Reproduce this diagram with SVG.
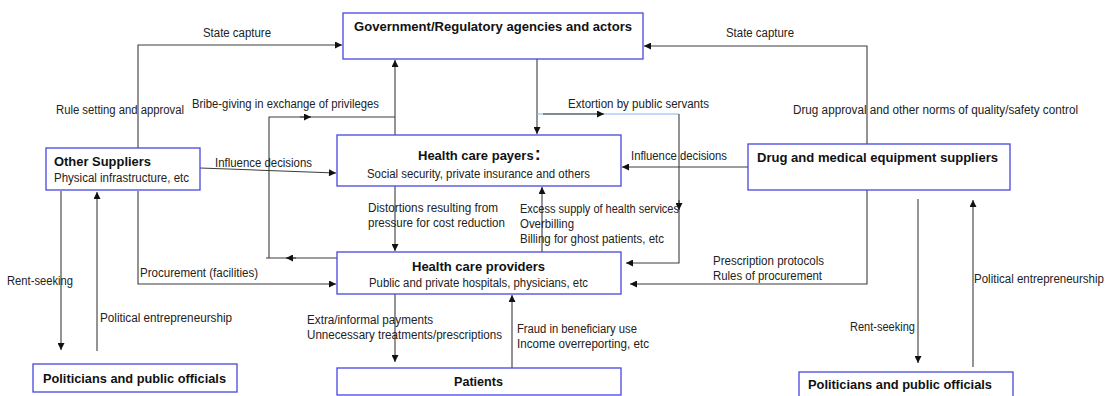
<svg xmlns="http://www.w3.org/2000/svg" width="1113" height="396" viewBox="0 0 1113 396">
<style>
.box{fill:#fff;stroke:#4646e0;stroke-width:1.3}
.t{font-family:"Liberation Sans",Arial,sans-serif;font-size:12px;fill:#222}
.b{font-family:"Liberation Sans",Arial,sans-serif;font-size:13px;font-weight:bold;fill:#111}
.ln{fill:none;stroke:#3c3c3c;stroke-width:1.1}
.lb{fill:none;stroke:#8fb0f0;stroke-width:1.1}
</style>
<defs>
<marker id="ah" viewBox="0 0 8 8" refX="8" refY="4" markerWidth="8" markerHeight="7" orient="auto" markerUnits="userSpaceOnUse">
<path d="M0,0 L8,4 L0,8 z" fill="#111"/>
</marker>
</defs>
<rect width="1113" height="396" fill="#fff"/>
<g id="connectors">
<path class="ln" d="M138,148 L138,45 L342,45" marker-end="url(#ah)"/>
<path class="ln" d="M138,191 L138,284 L336,284" marker-end="url(#ah)"/>
<path class="ln" d="M200,168 L336,173" marker-end="url(#ah)"/>
<path class="ln" d="M337,258 L266,258"/>
<path class="ln" d="M296,258 L286,258" marker-end="url(#ah)"/>
<path class="ln" d="M269,258 L269,117 L395,117"/>
<path class="ln" d="M300,117 L311,117" marker-end="url(#ah)"/>
<path class="ln" d="M395,135 L395,60" marker-end="url(#ah)"/>
<path class="ln" d="M537,59 L537,134" marker-end="url(#ah)"/>
<path class="lb" d="M537,114 L679,114"/>
<path class="ln" d="M543,114 L604,114" marker-end="url(#ah)"/>
<path class="ln" d="M679,114 L679,263 L626,263" marker-end="url(#ah)"/>
<path class="ln" d="M679,200 L679,210" marker-end="url(#ah)"/>
<path class="ln" d="M748,167 L622,167" marker-end="url(#ah)"/>
<path class="ln" d="M867,144 L867,46 L644,46" marker-end="url(#ah)"/>
<path class="ln" d="M867,190 L867,284 L630,284" marker-end="url(#ah)"/>
<path class="ln" d="M395,186 L395,251" marker-end="url(#ah)"/>
<path class="ln" d="M542,252 L542,187" marker-end="url(#ah)"/>
<path class="ln" d="M395,294 L395,362" marker-end="url(#ah)"/>
<path class="ln" d="M512,368 L512,295" marker-end="url(#ah)"/>
<path class="ln" d="M61,191 L61,350" marker-end="url(#ah)"/>
<path class="ln" d="M97,351 L97,192" marker-end="url(#ah)"/>
<path class="ln" d="M918,199 L918,363" marker-end="url(#ah)"/>
<path class="ln" d="M973,367 L973,200" marker-end="url(#ah)"/>
</g>
<g id="labels">
<text class="t" x="203" y="37" textLength="68" lengthAdjust="spacingAndGlyphs">State capture</text>
<text class="t" x="56" y="114" textLength="128" lengthAdjust="spacingAndGlyphs">Rule setting and approval</text>
<text class="t" x="192" y="108" textLength="187" lengthAdjust="spacingAndGlyphs">Bribe-giving in exchange of privileges</text>
<text class="t" x="215" y="167" textLength="97" lengthAdjust="spacingAndGlyphs">Influence decisions</text>
<text class="t" x="568" y="108" textLength="141" lengthAdjust="spacingAndGlyphs">Extortion by public servants</text>
<text class="t" x="631" y="160" textLength="96" lengthAdjust="spacingAndGlyphs">Influence decisions</text>
<text class="t" x="726" y="37" textLength="68" lengthAdjust="spacingAndGlyphs">State capture</text>
<text class="t" x="793" y="114" textLength="285" lengthAdjust="spacingAndGlyphs">Drug approval and other norms of quality/safety control</text>
<text class="t" x="368" y="212" textLength="130" lengthAdjust="spacingAndGlyphs">Distortions resulting from</text>
<text class="t" x="368" y="227" textLength="137" lengthAdjust="spacingAndGlyphs">pressure for cost reduction</text>
<text class="t" x="520" y="213" textLength="159" lengthAdjust="spacingAndGlyphs">Excess supply of health services</text>
<text class="t" x="520" y="228" textLength="54" lengthAdjust="spacingAndGlyphs">Overbilling</text>
<text class="t" x="520" y="243" textLength="144" lengthAdjust="spacingAndGlyphs">Billing for ghost patients, etc</text>
<text class="t" x="140" y="277" textLength="118" lengthAdjust="spacingAndGlyphs">Procurement (facilities)</text>
<text class="t" x="713" y="265" textLength="111" lengthAdjust="spacingAndGlyphs">Prescription protocols</text>
<text class="t" x="713" y="280" textLength="109" lengthAdjust="spacingAndGlyphs">Rules of procurement</text>
<text class="t" x="7" y="285" textLength="66" lengthAdjust="spacingAndGlyphs">Rent-seeking</text>
<text class="t" x="100" y="322" textLength="132" lengthAdjust="spacingAndGlyphs">Political entrepreneurship</text>
<text class="t" x="307" y="324" textLength="126" lengthAdjust="spacingAndGlyphs">Extra/informal payments</text>
<text class="t" x="307" y="339" textLength="195" lengthAdjust="spacingAndGlyphs">Unnecessary treatments/prescriptions</text>
<text class="t" x="517" y="333" textLength="120" lengthAdjust="spacingAndGlyphs">Fraud in beneficiary use</text>
<text class="t" x="517" y="348" textLength="132" lengthAdjust="spacingAndGlyphs">Income overreporting, etc</text>
<text class="t" x="850" y="331" textLength="65" lengthAdjust="spacingAndGlyphs">Rent-seeking</text>
<text class="t" x="974" y="283" textLength="130" lengthAdjust="spacingAndGlyphs">Political entrepreneurship</text>
</g>
<g id="gov">
<rect class="box" x="343" y="13" width="300" height="46"/>
<text class="b" x="354" y="31" textLength="278" lengthAdjust="spacingAndGlyphs">Government/Regulatory agencies and actors</text>
</g>
<g id="payers">
<rect class="box" x="337" y="135" width="284" height="51"/>
<text class="b" x="418" y="160">Health care payers<tspan font-size="18" dx="1">:</tspan></text>
<text class="t" x="367" y="178" textLength="223" lengthAdjust="spacingAndGlyphs">Social security, private insurance and others</text>
</g>
<g id="providers">
<rect class="box" x="337" y="252" width="284" height="42"/>
<text class="b" x="412" y="271" textLength="133" lengthAdjust="spacingAndGlyphs">Health care providers</text>
<text class="t" x="369" y="287" textLength="219" lengthAdjust="spacingAndGlyphs">Public and private hospitals, physicians, etc</text>
</g>
<g id="patients">
<rect class="box" x="337" y="368" width="284" height="27"/>
<text class="b" x="454" y="386" textLength="49" lengthAdjust="spacingAndGlyphs">Patients</text>
</g>
<g id="other-suppliers">
<rect class="box" x="46" y="148" width="154" height="42"/>
<text class="b" x="54" y="166" textLength="97" lengthAdjust="spacingAndGlyphs">Other Suppliers</text>
<text class="t" x="54" y="182" textLength="135" lengthAdjust="spacingAndGlyphs">Physical infrastructure, etc</text>
</g>
<g id="drug-suppliers">
<rect class="box" x="748" y="144" width="262" height="46"/>
<text class="b" x="757" y="162" textLength="241" lengthAdjust="spacingAndGlyphs">Drug and medical equipment suppliers</text>
</g>
<g id="politicians-left">
<rect class="box" x="33" y="364" width="204" height="28"/>
<text class="b" x="43" y="383" textLength="183" lengthAdjust="spacingAndGlyphs">Politicians and public officials</text>
</g>
<g id="politicians-right">
<rect class="box" x="799" y="372" width="214" height="30"/>
<text class="b" x="808" y="389" textLength="184" lengthAdjust="spacingAndGlyphs">Politicians and public officials</text>
</g>
</svg>
